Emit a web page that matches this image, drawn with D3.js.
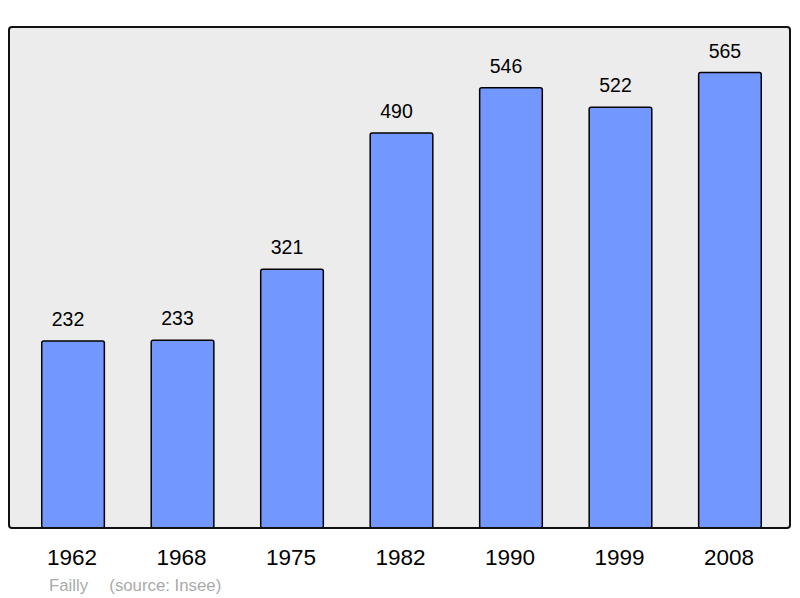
<!DOCTYPE html>
<html>
<head>
<meta charset="utf-8">
<script src="https://cdn.jsdelivr.net/npm/d3@7"></script>
<style>
  body { margin: 0; background: #fff; }
  svg { display: block; font-family: "Liberation Sans", Arial, sans-serif; }
</style>
</head>
<body>
<svg id="chart" width="800" height="598"></svg>
<script>
const years = ["1962", "1968", "1975", "1982", "1990", "1999", "2008"];
const population = [232, 233, 321, 490, 546, 522, 565];
const commune = "Failly";
const source = "(source: Insee)";

const svg = d3.select("#chart");
const frame = {left: 9, top: 27, right: 790, bottom: 528};

let x = d3.scaleBand()
    .domain(years)
    .range([frame.left, 794])
    .paddingInner(0.428)
    .paddingOuter(0.299);

let y = d3.scaleLinear()
    .domain([0, d3.max(population) * 1.1])
    .range([frame.bottom, frame.top]);

svg.append("rect")
    .attr("x", frame.left)
    .attr("y", frame.top)
    .attr("width", frame.right - frame.left)
    .attr("height", frame.bottom - frame.top)
    .attr("rx", 3)
    .attr("fill", "#ececec");

let data = years.map((yr, i) => ({year: yr, value: population[i]}));

svg.append("g").selectAll("rect")
    .data(data)
    .join("rect")
    .attr("x", d => x(d.year))
    .attr("y", d => y(d.value))
    .attr("width", x.bandwidth())
    .attr("height", d => y(0) - y(d.value))
    .attr("rx", 2)
    .attr("fill", "#7298ff")
    .attr("stroke", "#000")
    .attr("stroke-width", 1.5);

// value labels sit a little left of bar centre in the original
svg.append("g").selectAll("text")
    .data(data)
    .join("text")
    .attr("x", d => x(d.year) + x.bandwidth() / 2 - 5)
    .attr("y", d => y(d.value) - 15)
    .attr("text-anchor", "middle")
    .attr("font-size", 19.5)
    .attr("fill", "#000")
    .text(d => d.value);

// frame on top of bars
svg.append("rect")
    .attr("x", frame.left)
    .attr("y", frame.top)
    .attr("width", frame.right - frame.left)
    .attr("height", frame.bottom - frame.top)
    .attr("rx", 3)
    .attr("fill", "none")
    .attr("stroke", "#111")
    .attr("stroke-width", 2);

// year labels via axis
let axis = svg.append("g")
    .attr("transform", `translate(0,${frame.bottom})`)
    .call(d3.axisBottom(x).tickSize(0).tickPadding(0));
axis.select(".domain").remove();
axis.selectAll("text")
    .attr("dy", null)
    .attr("x", -1)
    .attr("y", 36.5)
    .attr("font-size", 22.5)
    .attr("font-family", "Liberation Sans, Arial, sans-serif")
    .attr("fill", "#000");

let foot = svg.append("text")
    .attr("y", 590.5)
    .attr("font-size", 16.8)
    .attr("fill", "#aaaaaa");
foot.append("tspan").attr("x", 49).text(commune);
foot.append("tspan").attr("x", 109.3).text(source);
</script>
</body>
</html>
